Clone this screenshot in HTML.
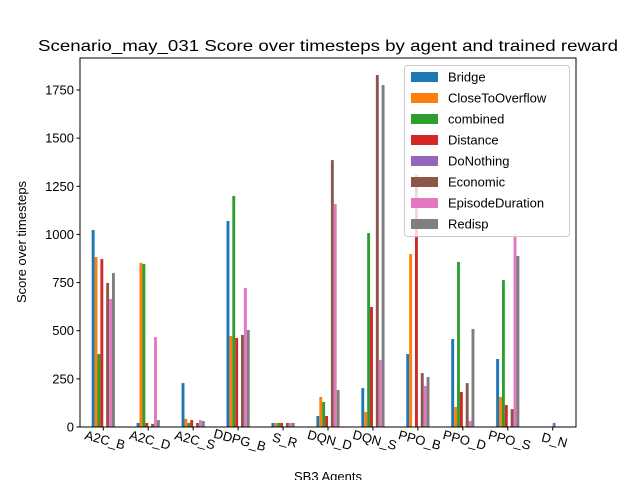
<!DOCTYPE html>
<html><head><meta charset="utf-8"><style>
body{margin:0;background:#fff}
svg{display:block;font-family:"Liberation Sans","DejaVu Sans",sans-serif}
</style></head><body>
<svg id="chart" width="640" height="480" viewBox="0 0 640 480" xmlns="http://www.w3.org/2000/svg">
<rect width="640" height="480" fill="#fff"/>
<text x="328" y="51" font-size="16" text-anchor="middle" textLength="580" lengthAdjust="spacingAndGlyphs">Scenario_may_031 Score over timesteps by agent and trained reward</text>
<g id="plot"></g>
</svg>
<script>
const categories = ["A2C_B","A2C_D","A2C_S","DDPG_B","S_R","DQN_D","DQN_S","PPO_B","PPO_D","PPO_S","D_N"];
const seriesNames = ["Bridge","CloseToOverflow","combined","Distance","DoNothing","Economic","EpisodeDuration","Redisp"];
const colors = ["#1f77b4","#ff7f0e","#2ca02c","#d62728","#9467bd","#8c564b","#e377c2","#7f7f7f"];
const bridge = [1023,21,228,1070,21,57,202,379,457,353,0];
const closeToOverflow = [883,852,42,473,21,156,78,898,104,156,0];
const combined = [379,846,21,1200,21,130,1007,0,857,763,0];
const distance = [872,21,36,462,21,57,623,1309,182,114,0];
const doNothing = [0,0,0,0,0,0,0,0,0,0,21];
const economic = [748,16,21,478,21,1386,1828,280,228,93,0];
const episodeDuration = [665,467,36,722,21,1158,348,213,31,1000,0];
const redisp = [800,36,31,504,21,192,1776,260,509,888,0];
const yTicks = [0,250,500,750,1000,1250,1500,1750];
const series = [bridge,closeToOverflow,combined,distance,doNothing,economic,episodeDuration,redisp];

const L=80,R=576,T=58,B=427;
const xs = i => L + (i + 0.518) * (R - L) / 11.036;
const ys = v => B - v * (B - 90) / 1750;
const NS="http://www.w3.org/2000/svg";
const g=document.getElementById('plot');
function mk(tag,attrs,parent){const e=document.createElementNS(NS,tag);for(const k in attrs)e.setAttribute(k,attrs[k]);(parent||g).appendChild(e);return e;}
const bw=2.9;
series.forEach((vals,s)=>{
  vals.forEach((v,i)=>{
    if(v<=0) return;
    const x=xs(i)+(s-4)*bw;
    const r=mk('rect',{x:x,y:ys(v),width:bw,height:B-ys(v),fill:colors[s]});
    
    
  });
});
const ax=mk('rect',{x:L,y:T,width:R-L,height:B-T,fill:'none',stroke:'#000','stroke-width':1});


yTicks.forEach(t=>{
  const y=ys(t);
  mk('line',{x1:L-3.5,x2:L,y1:y,y2:y,stroke:'#000'});
  const tx=mk('text',{x:L-6,y:y+4.5,'font-size':13,'text-anchor':'end'});
  tx.textContent=t;
  
  
});
categories.forEach((c,i)=>{
  const x=xs(i);
  mk('line',{x1:x,x2:x,y1:B,y2:B+3.5,stroke:'#000'});
  const tx=mk('text',{x:x+2,y:B+17,'font-size':13,'text-anchor':'middle',transform:`rotate(15 ${x} ${B+12})`});
  tx.textContent=c;
  
  
});
const xl=mk('text',{x:328,y:481,'font-size':13,'text-anchor':'middle'});
xl.textContent='SB3 Agents';


const yl=mk('text',{x:26,y:242,'font-size':13,'text-anchor':'middle',transform:'rotate(-90 26 242)'});
yl.textContent='Score over timesteps';


const lg=mk('g',{});


mk('rect',{x:404.5,y:65.5,width:165,height:171,rx:3,fill:'#fff','fill-opacity':0.8,stroke:'#ccc'},lg);
seriesNames.forEach((n,s)=>{
  const y=76+s*21;
  const e=mk('g',{},lg);
  
  
  mk('rect',{x:411,y:y-4,width:27,height:10,fill:colors[s]},e);
  const t=mk('text',{x:448,y:y+5.5,'font-size':13},e);
  t.textContent=n;
});
</script>
</body></html>
